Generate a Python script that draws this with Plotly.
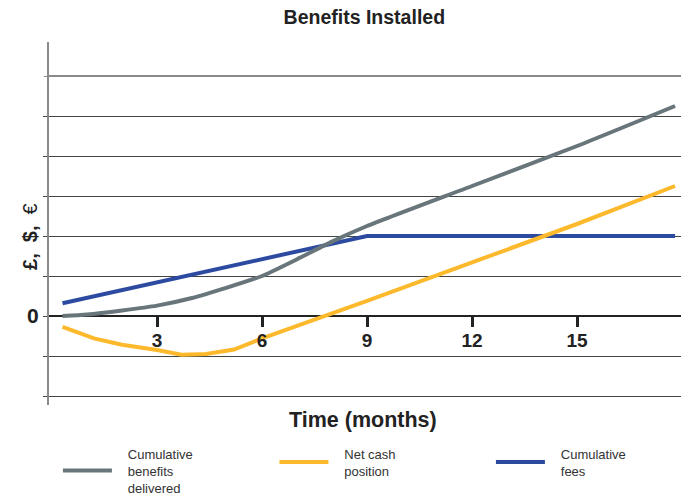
import plotly.graph_objects as go

# Months since installation and the value of each series (in grid units)
fees_months = [0.3, 9, 17.8]
fees_values = [0.32, 2.0, 2.0]

benefit_months = [0.3, 1, 2, 3, 4, 5, 6, 7, 8, 9, 12, 15, 17.8]
benefit_values = [0.0, 0.04, 0.14, 0.26, 0.45, 0.71, 1.0, 1.42, 1.86, 2.25, 3.25, 4.25, 5.25]

cash_months = [0.3, 1.2, 2, 3, 3.7, 4.4, 5.2, 6, 9, 12, 15, 17.8]
cash_values = [-0.27, -0.56, -0.72, -0.85, -0.97, -0.95, -0.84, -0.56, 0.38, 1.35, 2.3, 3.25]

x_tick_vals = [3, 6, 9, 12, 15]
y_grid_vals = [-2, -1, 0, 1, 2, 3, 4, 5]
y_tick_text = ["", "", "0", "", "", "", "", ""]

Y_RANGE = [-2.225, 6.85]
X_RANGE = [-0.086, 17.97]

GRAY = "#68767c"
YELLOW = "#fdb92c"
BLUE = "#2c4ba0"
TEXT = "#222222"
FONT = "Liberation Sans, Arial, sans-serif"

PAD = "\u00a0\u00a0\u00a0"  # indent legend text away from the line sample


def legend_label(lines):
    return "<br>".join(PAD + s for s in lines)


fig = go.Figure()

fig.add_trace(go.Scatter(
    x=fees_months, y=fees_values, mode="lines",
    name=legend_label(["Cumulative", "fees"]), legendrank=3,
    line=dict(color=BLUE, width=4),
))
fig.add_trace(go.Scatter(
    x=benefit_months, y=benefit_values, mode="lines",
    name=legend_label(["Cumulative", "benefits", "delivered"]), legendrank=1,
    line=dict(color=GRAY, width=4, shape="spline", smoothing=0.6),
))
fig.add_trace(go.Scatter(
    x=cash_months, y=cash_values, mode="lines",
    name=legend_label(["Net cash", "position"]), legendrank=2,
    line=dict(color=YELLOW, width=4),
))

# x axis sits on the zero line
zero_pos = -Y_RANGE[0] / (Y_RANGE[1] - Y_RANGE[0])

fig.update_layout(
    width=681, height=498,
    margin=dict(l=49, r=0, t=42, b=93, autoexpand=False),
    paper_bgcolor="white", plot_bgcolor="white",
    font=dict(family=FONT, color=TEXT),
    title=dict(text="<b>Benefits Installed</b>", x=0.535, xanchor="center",
               y=0.965, yanchor="middle", font=dict(size=19.5, color=TEXT)),
    xaxis=dict(
        range=X_RANGE, anchor="free", position=zero_pos,
        showgrid=False, zeroline=False, showline=False,
        tickvals=x_tick_vals, ticktext=[f"<b>{v}</b>" for v in x_tick_vals],
        ticks="outside", ticklen=10, tickwidth=3, tickcolor=TEXT,
        tickfont=dict(size=19, color=TEXT), ticklabelstandoff=-3,
    ),
    yaxis=dict(
        range=Y_RANGE, showline=True, linecolor="#8a8a8a", linewidth=2,
        tickvals=y_grid_vals, ticktext=[f"<b>{t}</b>" if t else "" for t in y_tick_text],
        ticks="outside", ticklen=4, tickcolor="#444444",
        showgrid=True, gridcolor="#444444", gridwidth=1,
        zeroline=True, zerolinecolor=TEXT, zerolinewidth=2,
        tickfont=dict(size=21, color=TEXT),
    ),
    yaxis2=dict(
        range=Y_RANGE, overlaying="y", side="left",
        tickvals=[6], showticklabels=False,
        ticks="outside", ticklen=4, tickcolor="#8a8a8a",
        showgrid=True, gridcolor="#8a8a8a", gridwidth=2, zeroline=False,
    ),
    legend=dict(
        orientation="h", x=-0.0001, xanchor="left", y=-0.181, yanchor="middle",
        entrywidth=152.5, entrywidthmode="pixels", valign="middle",
        borderwidth=9, bordercolor="rgba(255,255,255,0)", bgcolor="rgba(255,255,255,0)",
        font=dict(size=13, color="#333333"), itemwidth=49,
    ),
    showlegend=True,
)

# invisible trace so the secondary axis is rendered
fig.add_trace(go.Scatter(x=[None], y=[None], yaxis="y2", showlegend=False))

fig.add_annotation(
    text="<b>Time (months)</b>", xref="paper", yref="paper",
    x=0.497, y=-0.041, xanchor="center", yanchor="middle",
    showarrow=False, font=dict(size=21.5, color=TEXT),
)
fig.add_annotation(
    text="<b>£,\u00a0 $,\u00a0</b> €", xref="paper", yref="paper",
    x=-0.030, y=0.463, xanchor="center", yanchor="middle", textangle=-90,
    showarrow=False, font=dict(size=20, color=TEXT),
)

fig.write_html("out.html")
